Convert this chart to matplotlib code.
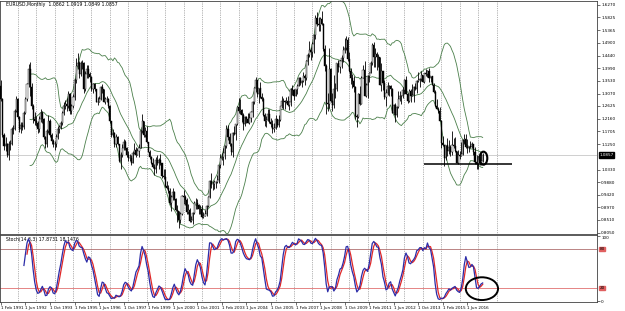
# EURUSD monthly chart with Bollinger bands and stochastic
import numpy as np
import pandas as pd
import matplotlib
matplotlib.use('Agg')
import matplotlib.pyplot as plt
from matplotlib.patches import Ellipse

# monthly bars, Feb 1991 .. Apr 2017 (one row per year)
close = [
    1.287, 1.157, 1.118, 1.124, 1.087, 1.124, 1.124, 1.178, 1.178, 1.246, 1.287,
    1.222, 1.178, 1.193, 1.185, 1.238, 1.287, 1.340, 1.397, 1.330, 1.262, 1.215, 1.207,
    1.200, 1.178, 1.215, 1.238, 1.215, 1.150, 1.124, 1.171, 1.207, 1.157, 1.137, 1.124,
    1.124, 1.150, 1.178, 1.185, 1.200, 1.238, 1.262, 1.270, 1.262, 1.304, 1.246, 1.262,
    1.295, 1.358, 1.407, 1.417, 1.377, 1.417, 1.417, 1.322, 1.377, 1.397, 1.377, 1.368,
    1.322, 1.340, 1.322, 1.278, 1.278, 1.287, 1.330, 1.322, 1.278, 1.287, 1.287, 1.262,
    1.207, 1.157, 1.164, 1.124, 1.150, 1.124, 1.063, 1.087, 1.111, 1.131, 1.111, 1.087,
    1.075, 1.075, 1.057, 1.093, 1.105, 1.087, 1.099, 1.111, 1.171, 1.207, 1.157, 1.171,
    1.131, 1.098, 1.078, 1.057, 1.043, 1.035, 1.069, 1.056, 1.068, 1.056, 1.009, 1.007,
    0.972, 0.965, 0.957, 0.911, 0.933, 0.953, 0.928, 0.888, 0.882, 0.851, 0.874, 0.939,
    0.935, 0.922, 0.878, 0.887, 0.846, 0.850, 0.877, 0.912, 0.911, 0.905, 0.891, 0.890,
    0.860, 0.867, 0.872, 0.902, 0.934, 0.991, 0.979, 0.981, 0.987, 0.988, 0.994, 1.049,
    1.076, 1.079, 1.091, 1.117, 1.180, 1.149, 1.124, 1.098, 1.165, 1.160, 1.199, 1.259,
    1.244, 1.248, 1.231, 1.197, 1.221, 1.217, 1.202, 1.218, 1.241, 1.276, 1.327, 1.357,
    1.304, 1.326, 1.296, 1.287, 1.231, 1.210, 1.213, 1.234, 1.203, 1.199, 1.178, 1.184,
    1.215, 1.192, 1.212, 1.262, 1.281, 1.279, 1.276, 1.281, 1.266, 1.276, 1.323, 1.319,
    1.300, 1.323, 1.335, 1.365, 1.346, 1.353, 1.369, 1.364, 1.425, 1.447, 1.464, 1.459,
    1.486, 1.518, 1.579, 1.560, 1.555, 1.575, 1.560, 1.467, 1.406, 1.273, 1.269, 1.397,
    1.279, 1.266, 1.325, 1.323, 1.416, 1.403, 1.426, 1.434, 1.464, 1.472, 1.500, 1.432,
    1.387, 1.363, 1.351, 1.330, 1.227, 1.223, 1.305, 1.268, 1.363, 1.394, 1.300, 1.338,
    1.369, 1.380, 1.416, 1.481, 1.439, 1.450, 1.439, 1.438, 1.338, 1.387, 1.345, 1.295,
    1.308, 1.334, 1.334, 1.324, 1.236, 1.266, 1.229, 1.257, 1.286, 1.297, 1.299, 1.319,
    1.358, 1.306, 1.282, 1.317, 1.300, 1.301, 1.330, 1.322, 1.352, 1.358, 1.359, 1.375,
    1.349, 1.380, 1.377, 1.387, 1.363, 1.369, 1.339, 1.313, 1.263, 1.252, 1.245, 1.210,
    1.129, 1.120, 1.073, 1.122, 1.099, 1.115, 1.098, 1.121, 1.118, 1.100, 1.057, 1.086,
    1.083, 1.088, 1.138, 1.145, 1.113, 1.110, 1.117, 1.116, 1.124, 1.098, 1.059, 1.052,
    1.080, 1.058, 1.065, 1.0857,
]
high = [
    1.355, 1.290, 1.165, 1.150, 1.130, 1.135, 1.140, 1.185, 1.195, 1.250, 1.300,
    1.290, 1.225, 1.205, 1.205, 1.245, 1.295, 1.345, 1.415, 1.420, 1.345, 1.270, 1.240,
    1.225, 1.210, 1.225, 1.250, 1.245, 1.220, 1.155, 1.180, 1.230, 1.215, 1.165, 1.145,
    1.135, 1.160, 1.190, 1.195, 1.210, 1.245, 1.275, 1.285, 1.290, 1.315, 1.310, 1.270,
    1.305, 1.365, 1.435, 1.454, 1.425, 1.425, 1.430, 1.420, 1.390, 1.410, 1.410, 1.385,
    1.370, 1.345, 1.345, 1.325, 1.295, 1.300, 1.335, 1.340, 1.325, 1.295, 1.300, 1.290,
    1.265, 1.210, 1.180, 1.170, 1.160, 1.155, 1.125, 1.095, 1.125, 1.145, 1.140, 1.115,
    1.100, 1.090, 1.085, 1.100, 1.130, 1.115, 1.110, 1.125, 1.180, 1.235, 1.210, 1.185,
    1.190, 1.133, 1.105, 1.083, 1.073, 1.052, 1.078, 1.084, 1.073, 1.090, 1.057, 1.035,
    1.034, 0.990, 0.978, 0.966, 0.942, 0.966, 0.956, 0.930, 0.905, 0.880, 0.878, 0.942,
    0.959, 0.940, 0.932, 0.908, 0.894, 0.866, 0.880, 0.921, 0.931, 0.925, 0.907, 0.905,
    0.905, 0.878, 0.887, 0.905, 0.938, 0.994, 1.019, 0.990, 0.996, 0.993, 1.015, 1.049,
    1.088, 1.094, 1.109, 1.120, 1.193, 1.193, 1.164, 1.129, 1.168, 1.189, 1.199, 1.264,
    1.290, 1.287, 1.251, 1.236, 1.228, 1.228, 1.238, 1.238, 1.243, 1.282, 1.330, 1.367,
    1.358, 1.327, 1.348, 1.309, 1.294, 1.237, 1.227, 1.250, 1.250, 1.219, 1.212, 1.202,
    1.231, 1.216, 1.229, 1.264, 1.298, 1.290, 1.283, 1.296, 1.297, 1.282, 1.329, 1.337,
    1.322, 1.324, 1.340, 1.368, 1.368, 1.355, 1.385, 1.379, 1.428, 1.452, 1.497, 1.477,
    1.493, 1.523, 1.590, 1.602, 1.585, 1.585, 1.604, 1.561, 1.481, 1.413, 1.308, 1.472,
    1.400, 1.309, 1.374, 1.345, 1.419, 1.430, 1.429, 1.445, 1.478, 1.508, 1.514, 1.510,
    1.458, 1.398, 1.377, 1.370, 1.334, 1.232, 1.310, 1.333, 1.370, 1.412, 1.425, 1.344,
    1.376, 1.386, 1.425, 1.488, 1.494, 1.470, 1.456, 1.449, 1.440, 1.417, 1.385, 1.355,
    1.322, 1.349, 1.339, 1.338, 1.329, 1.269, 1.272, 1.264, 1.317, 1.317, 1.301, 1.331,
    1.359, 1.371, 1.310, 1.324, 1.324, 1.342, 1.334, 1.345, 1.357, 1.384, 1.362, 1.389,
    1.374, 1.383, 1.397, 1.391, 1.399, 1.368, 1.370, 1.345, 1.319, 1.289, 1.258, 1.257,
    1.212, 1.153, 1.122, 1.122, 1.147, 1.139, 1.121, 1.171, 1.146, 1.150, 1.101, 1.102,
    1.099, 1.134, 1.144, 1.162, 1.162, 1.142, 1.119, 1.137, 1.133, 1.124, 1.113, 1.087,
    1.083, 1.083, 1.091, 1.0919,
]
low = [
    1.280, 1.150, 1.105, 1.100, 1.080, 1.069, 1.105, 1.120, 1.160, 1.175, 1.240,
    1.215, 1.170, 1.165, 1.175, 1.180, 1.235, 1.280, 1.330, 1.300, 1.250, 1.200, 1.195,
    1.190, 1.165, 1.170, 1.205, 1.200, 1.145, 1.110, 1.115, 1.165, 1.150, 1.125, 1.115,
    1.105, 1.115, 1.145, 1.165, 1.180, 1.195, 1.230, 1.250, 1.245, 1.255, 1.235, 1.235,
    1.255, 1.285, 1.345, 1.395, 1.365, 1.370, 1.395, 1.310, 1.315, 1.365, 1.365, 1.350,
    1.315, 1.310, 1.315, 1.275, 1.265, 1.275, 1.285, 1.310, 1.275, 1.270, 1.275, 1.255,
    1.200, 1.150, 1.150, 1.115, 1.115, 1.120, 1.060, 1.035, 1.080, 1.105, 1.105, 1.080,
    1.065, 1.065, 1.050, 1.055, 1.090, 1.080, 1.085, 1.080, 1.110, 1.165, 1.150, 1.150,
    1.128, 1.095, 1.070, 1.054, 1.039, 1.013, 1.021, 1.050, 1.035, 1.050, 1.002, 0.998,
    0.970, 0.961, 0.950, 0.904, 0.885, 0.923, 0.923, 0.885, 0.845, 0.823, 0.840, 0.870,
    0.910, 0.906, 0.874, 0.872, 0.842, 0.844, 0.838, 0.871, 0.890, 0.891, 0.873, 0.873,
    0.857, 0.857, 0.867, 0.867, 0.898, 0.930, 0.968, 0.960, 0.963, 0.966, 0.986, 0.985,
    1.037, 1.066, 1.049, 1.071, 1.112, 1.140, 1.118, 1.087, 1.077, 1.158, 1.140, 1.193,
    1.237, 1.232, 1.206, 1.176, 1.190, 1.200, 1.200, 1.198, 1.203, 1.224, 1.271, 1.313,
    1.295, 1.273, 1.291, 1.282, 1.227, 1.190, 1.187, 1.210, 1.200, 1.187, 1.164, 1.169,
    1.180, 1.185, 1.187, 1.209, 1.256, 1.251, 1.252, 1.272, 1.263, 1.247, 1.262, 1.302,
    1.285, 1.299, 1.305, 1.334, 1.338, 1.331, 1.348, 1.339, 1.356, 1.410, 1.441, 1.427,
    1.440, 1.452, 1.504, 1.552, 1.533, 1.532, 1.555, 1.461, 1.390, 1.233, 1.243, 1.255,
    1.275, 1.246, 1.255, 1.292, 1.316, 1.385, 1.380, 1.401, 1.422, 1.452, 1.464, 1.425,
    1.386, 1.343, 1.327, 1.314, 1.214, 1.188, 1.219, 1.266, 1.268, 1.366, 1.297, 1.295,
    1.290, 1.350, 1.384, 1.411, 1.403, 1.403, 1.394, 1.403, 1.337, 1.317, 1.321, 1.286,
    1.262, 1.302, 1.298, 1.300, 1.236, 1.229, 1.204, 1.224, 1.256, 1.279, 1.269, 1.292,
    1.304, 1.304, 1.274, 1.275, 1.275, 1.298, 1.276, 1.319, 1.311, 1.349, 1.332, 1.354,
    1.348, 1.345, 1.371, 1.366, 1.350, 1.350, 1.339, 1.311, 1.259, 1.250, 1.236, 1.209,
    1.110, 1.119, 1.046, 1.066, 1.082, 1.088, 1.081, 1.085, 1.109, 1.096, 1.056, 1.052,
    1.071, 1.081, 1.086, 1.124, 1.110, 1.091, 1.095, 1.110, 1.112, 1.085, 1.054, 1.034,
    1.034, 1.049, 1.049, 1.060,
]
first_open = 1.335
date_labels = ['1 Feb 1991', '1 Jun 1992', '1 Oct 1993', '1 Feb 1995', '1 Jun 1996',
               '1 Oct 1997', '1 Feb 1999', '1 Jun 2000', '1 Oct 2001', '1 Feb 2003',
               '1 Jun 2004', '1 Oct 2005', '1 Feb 2007', '1 Jun 2008', '1 Oct 2009',
               '1 Feb 2011', '1 Jun 2012', '1 Oct 2013', '1 Feb 2015', '1 Jun 2016']
price_ticks = ['1.6270', '1.5825', '1.5365', '1.4900', '1.4440', '1.3990', '1.3530',
               '1.3070', '1.2625', '1.2160', '1.1705', '1.1250', '1.0330', '0.9880',
               '0.9420', '0.8970', '0.8510', '0.8050']
last_price = 1.0857
support_level = 1.053
header = 'EURUSD,Monthly  1.0862 1.0919 1.0849 1.0857'
stoch_header = 'Stoch(14,3,3) 17.8731 18.1476'

df = pd.DataFrame({'close': close, 'high': high, 'low': low})
df['open'] = df['close'].shift(1).fillna(first_open)
n = len(df)
x = np.arange(n)

# bollinger bands 20, 2
mid = df['close'].rolling(20).mean()
sd = df['close'].rolling(20).std(ddof=0)
upper = mid + 2 * sd
lower = mid - 2 * sd

# stochastic 14,3,3
ll = df['low'].rolling(14).min()
hh = df['high'].rolling(14).max()
k_main = 100 * (df['close'] - ll).rolling(3).sum() / (hh - ll).rolling(3).sum()
k_sig = k_main.rolling(3).mean()

W, H = 625, 311
fig = plt.figure(figsize=(6.25, 3.11), dpi=100)
fs = 3.0

xmin, xmax = -0.6, 388.5
ax = fig.add_axes([0, 1 - 234 / H, 597 / W, 233 / H])
ax2 = fig.add_axes([0, 1 - 302 / H, 597 / W, 67 / H])

# vertical dotted grid, one per year
grid_x = np.arange(11, 330, 12)
for a in (ax, ax2):
    for g in grid_x:
        a.axvline(g, color='#707070', lw=0.5, ls=(0, (1, 1.6)), zorder=0)
    a.set_xlim(xmin, xmax)

# candles
o = df['open'].values
c = df['close'].values
lo = np.minimum(df['low'].values, np.minimum(o, c))
hi = np.maximum(df['high'].values, np.maximum(o, c))
ax.vlines(x, lo, hi, color='black', lw=0.6, zorder=3)
bull = c >= o
ax.bar(x[bull], (c - o)[bull], bottom=o[bull], width=0.7, color='white',
       edgecolor='black', lw=0.3, zorder=4)
ax.bar(x[~bull], (c - o)[~bull], bottom=o[~bull], width=0.7, color='black',
       edgecolor='black', lw=0.3, zorder=4)

bb_col = '#4a7f4a'
ax.plot(x, mid, color=bb_col, lw=0.6, zorder=2)
ax.plot(x, upper, color=bb_col, lw=0.6, zorder=2)
ax.plot(x, lower, color=bb_col, lw=0.6, zorder=2)

ax.axhline(last_price, color='#c8c8c8', lw=0.6, zorder=1)
ax.hlines(support_level, 276, 333, color='black', lw=1.1, zorder=5)
ax.add_patch(Ellipse((314.5, 1.074), 5, 0.047, fill=False, ec='black', lw=1.5, zorder=6))

ax.set_ylim(0.8003, 1.6414)
ax.yaxis.tick_right()
ax.set_yticks([float(t) for t in price_ticks])
ax.set_yticklabels(price_ticks)
ax.tick_params(axis='y', labelsize=fs, length=2, width=0.4, pad=1)
ax.set_xticks([])
ax.text(3, 1.6414 - 0.004, header, fontsize=fs + 0.3, va='top', ha='left')
ax.text(1.004, last_price, '%.4f' % last_price, transform=ax.get_yaxis_transform(),
        fontsize=fs, color='white', va='center', ha='left',
        bbox=dict(boxstyle='square,pad=0.15', fc='black', ec='black'))

# stochastic panel
ax2.axhline(80, color='#b07070', lw=0.6, zorder=1)
ax2.axhline(20, color='#e07070', lw=0.6, zorder=1)
ax2.plot(x, k_sig, color='#e02828', lw=0.9, zorder=3)
ax2.plot(x, k_main, color='#2c2ca8', lw=0.9, zorder=4)
ax2.add_patch(Ellipse((313.5, 19), 21, 35, fill=False, ec='black', lw=1.4, zorder=6))
ax2.set_ylim(-1.5, 101.5)
ax2.yaxis.tick_right()
ax2.set_yticks([0, 100])
ax2.set_yticklabels(['0', '100'])
ax2.get_yticklabels()[1].set_va('top')
ax2.tick_params(axis='y', labelsize=fs, length=2, width=0.4, pad=1)
for lv in (80, 20):
    ax2.text(1.004, lv, str(lv), transform=ax2.get_yaxis_transform(), fontsize=fs,
             color='black', va='center', ha='left',
             bbox=dict(boxstyle='square,pad=0.1', fc='#e06060', ec='#e06060'))
ax2.text(3, 99, stoch_header, fontsize=fs + 0.3, va='top', ha='left')
ax2.set_xticks(np.arange(0, 16 * len(date_labels), 16))
ax2.set_xticklabels(date_labels, ha='left')
ax2.tick_params(axis='x', labelsize=fs, length=2, width=0.4, pad=1)

for a in (ax, ax2):
    for s in a.spines.values():
        s.set_linewidth(0.6)
        s.set_color('#404040')

plt.savefig('out.png', dpi=100)
